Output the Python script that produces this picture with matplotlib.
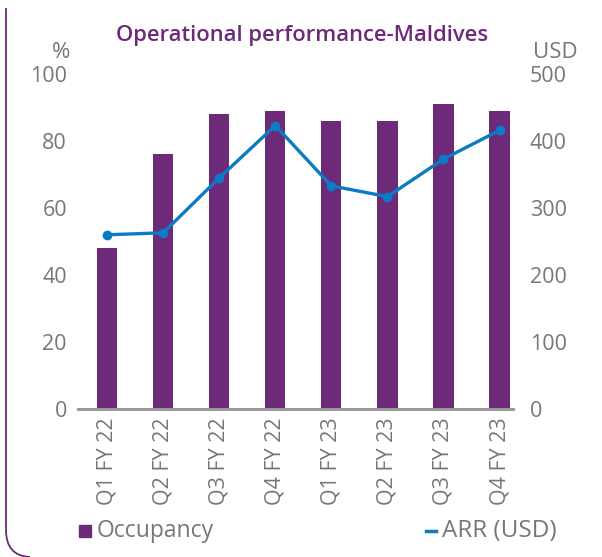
import matplotlib
matplotlib.use("Agg")
import matplotlib.pyplot as plt
from matplotlib.path import Path
from matplotlib.patches import PathPatch
from matplotlib.lines import Line2D

categories = ["Q1 FY 22", "Q2 FY 22", "Q3 FY 22", "Q4 FY 22",
              "Q1 FY 23", "Q2 FY 23", "Q3 FY 23", "Q4 FY 23"]
occupancy = [48, 76, 88, 89, 86, 86, 91, 89]
arr_usd = [260, 263, 345, 423, 333, 317, 373, 416]
left_ticks = [0, 20, 40, 60, 80, 100]
right_ticks = [0, 100, 200, 300, 400, 500]

PURPLE = "#6d2a78"
BLUE = "#0a7bc4"
GRAY = "#777777"
FONT = ["Open Sans", "DejaVu Sans"]

plt.rcParams["font.family"] = FONT

W, H = 602, 557
fig = plt.figure(figsize=(W / 100, H / 100), dpi=100)
ax = fig.add_axes([78 / W, 1 - 409 / H, (513 - 78) / W, (409 - 74) / H])
ax2 = ax.twinx()

x = list(range(len(categories)))
ax.bar(x, occupancy, width=0.36, color=PURPLE, zorder=2)
ax2.plot(x, arr_usd, color=BLUE, lw=2.4, marker="o", ms=6, zorder=3)

ax.set_xlim(-0.52, 7.24)
ax.set_ylim(0, 100)
ax2.set_ylim(0, 500)
ax.set_yticks(left_ticks)
ax2.set_yticks(right_ticks)
ax.set_xticks(x)
ax.set_xticklabels(categories, rotation=90, fontsize=16.5, color=GRAY)

for a in (ax, ax2):
    for s in a.spines.values():
        s.set_visible(False)
    a.tick_params(length=0, labelsize=15.5, labelcolor=GRAY)
ax.spines["bottom"].set_visible(True)
ax.spines["bottom"].set_color("#9a9a9a")
ax.spines["bottom"].set_linewidth(2.2)
ax.tick_params(axis="y", pad=8)
ax2.tick_params(axis="y", pad=12)
ax.tick_params(axis="x", pad=6)
ax2.set_zorder(ax.get_zorder() + 1)
ax2.patch.set_visible(False)

fig.text(302 / W, 1 - 35 / H, "Operational performance-Maldives", color=PURPLE,
         fontsize=15.8, fontweight="semibold", ha="center", va="center")
fig.text(70 / W, 1 - 52 / H, "%", color=GRAY, fontsize=16, ha="right", va="center")
fig.text(533 / W, 1 - 52 / H, "USD", color=GRAY, fontsize=16, ha="left", va="center")

# legend
fig.patches.append(plt.Rectangle((79 / W, 1 - 537 / H), 12 / W, 12 / H,
                                 transform=fig.transFigure, color=PURPLE))
fig.text(97 / W, 1 - 531 / H, "Occupancy", color=GRAY, fontsize=16.5, ha="left",
         va="center")
fig.lines.append(Line2D([426 / W, 436 / W], [1 - 531 / H, 1 - 531 / H],
                        transform=fig.transFigure, color=BLUE, lw=2.5))
fig.text(557 / W, 1 - 531 / H, "ARR (USD)", color=GRAY, fontsize=17.5, ha="right",
         va="center")

# border line
verts = [(6 / W, 1 - 8 / H), (6 / W, 1 - 530 / H), (6 / W, 1 - 556 / H),
         (30 / W, 1 - 557 / H)]
codes = [Path.MOVETO, Path.LINETO, Path.CURVE3, Path.CURVE3]
fig.patches.append(PathPatch(Path(verts, codes), transform=fig.transFigure,
                             fill=False, edgecolor=PURPLE, lw=1.3))

fig.savefig("out.png", dpi=100)
